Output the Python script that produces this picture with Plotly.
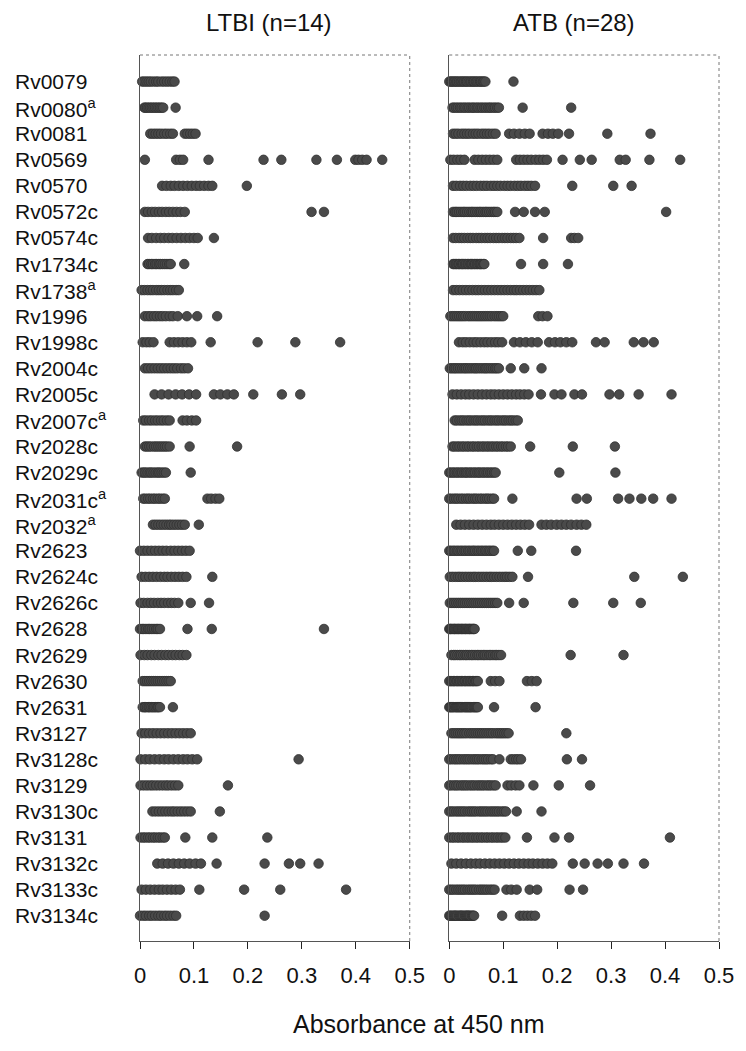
import plotly.graph_objects as go

# ---------------- data ----------------
antigens = ["Rv0079", "Rv0080", "Rv0081", "Rv0569", "Rv0570", "Rv0572c", "Rv0574c",
            "Rv1734c", "Rv1738", "Rv1996", "Rv1998c", "Rv2004c", "Rv2005c", "Rv2007c",
            "Rv2028c", "Rv2029c", "Rv2031c", "Rv2032", "Rv2623", "Rv2624c", "Rv2626c",
            "Rv2628", "Rv2629", "Rv2630", "Rv2631", "Rv3127", "Rv3128c", "Rv3129",
            "Rv3130c", "Rv3131", "Rv3132c", "Rv3133c", "Rv3134c"]
antigen_labels = ["Rv0079", "Rv0080<sup>a</sup>", "Rv0081", "Rv0569", "Rv0570", "Rv0572c",
                  "Rv0574c", "Rv1734c", "Rv1738<sup>a</sup>", "Rv1996", "Rv1998c", "Rv2004c",
                  "Rv2005c", "Rv2007c<sup>a</sup>", "Rv2028c", "Rv2029c", "Rv2031c<sup>a</sup>",
                  "Rv2032<sup>a</sup>", "Rv2623", "Rv2624c", "Rv2626c", "Rv2628", "Rv2629",
                  "Rv2630", "Rv2631", "Rv3127", "Rv3128c", "Rv3129", "Rv3130c", "Rv3131",
                  "Rv3132c", "Rv3133c", "Rv3134c"]
x_tickvals = [0, 0.1, 0.2, 0.3, 0.4, 0.5]
x_ticktext = ["0", "0.1", "0.2", "0.3", "0.4", "0.5"]
panel_titles = ["LTBI (n=14)", "ATB (n=28)"]
x_title = "Absorbance at 450 nm"

# LTBI group (n=14) absorbance values per antigen
ltbi_rv0079 = [0.004, 0.008, 0.012, 0.016, 0.02, 0.025, 0.03, 0.034, 0.04, 0.045, 0.05, 0.055, 0.06, 0.064]
ltbi_rv0080 = [0.008, 0.01, 0.013, 0.016, 0.019, 0.022, 0.025, 0.028, 0.031, 0.034, 0.037, 0.04, 0.043, 0.066]
ltbi_rv0081 = [0.019, 0.024, 0.029, 0.034, 0.039, 0.045, 0.05, 0.056, 0.061, 0.083, 0.088, 0.093, 0.098, 0.103]
ltbi_rv0569 = [0.009, 0.067, 0.074, 0.08, 0.127, 0.229, 0.262, 0.327, 0.365, 0.399, 0.405, 0.412, 0.42, 0.449]
ltbi_rv0570 = [0.041, 0.049, 0.057, 0.064, 0.072, 0.08, 0.088, 0.096, 0.104, 0.111, 0.119, 0.127, 0.134, 0.198]
ltbi_rv0572c = [0.009, 0.015, 0.022, 0.028, 0.035, 0.041, 0.048, 0.054, 0.061, 0.068, 0.075, 0.083, 0.318, 0.341]
ltbi_rv0574c = [0.015, 0.022, 0.03, 0.038, 0.045, 0.053, 0.06, 0.068, 0.076, 0.084, 0.092, 0.1, 0.107, 0.137]
ltbi_rv1734c = [0.014, 0.017, 0.021, 0.024, 0.028, 0.031, 0.035, 0.038, 0.042, 0.046, 0.05, 0.054, 0.057, 0.082]
ltbi_rv1738 = [0.003, 0.008, 0.014, 0.019, 0.024, 0.03, 0.035, 0.04, 0.045, 0.051, 0.056, 0.061, 0.067, 0.072]
ltbi_rv1996 = [0.009, 0.015, 0.02, 0.026, 0.031, 0.037, 0.042, 0.048, 0.055, 0.061, 0.07, 0.087, 0.106, 0.143]
ltbi_rv1998c = [0.005, 0.012, 0.018, 0.025, 0.055, 0.063, 0.071, 0.079, 0.087, 0.095, 0.131, 0.218, 0.288, 0.371]
ltbi_rv2004c = [0.009, 0.015, 0.021, 0.027, 0.033, 0.039, 0.045, 0.051, 0.057, 0.063, 0.069, 0.076, 0.082, 0.089]
ltbi_rv2005c = [0.027, 0.04, 0.053, 0.066, 0.078, 0.091, 0.104, 0.137, 0.149, 0.162, 0.174, 0.21, 0.263, 0.297]
ltbi_rv2007c = [0.006, 0.011, 0.017, 0.022, 0.028, 0.033, 0.039, 0.044, 0.05, 0.055, 0.079, 0.087, 0.096, 0.104]
ltbi_rv2028c = [0.009, 0.013, 0.017, 0.021, 0.026, 0.03, 0.034, 0.038, 0.042, 0.046, 0.05, 0.055, 0.092, 0.18]
ltbi_rv2029c = [0.003, 0.007, 0.01, 0.014, 0.018, 0.021, 0.025, 0.029, 0.033, 0.036, 0.04, 0.044, 0.048, 0.094]
ltbi_rv2031c = [0.006, 0.01, 0.015, 0.019, 0.024, 0.028, 0.033, 0.037, 0.042, 0.046, 0.125, 0.132, 0.14, 0.147]
ltbi_rv2032 = [0.024, 0.029, 0.034, 0.039, 0.044, 0.049, 0.054, 0.058, 0.063, 0.068, 0.073, 0.078, 0.083, 0.109]
ltbi_rv2623 = [0.0, 0.007, 0.014, 0.021, 0.028, 0.035, 0.042, 0.049, 0.057, 0.064, 0.071, 0.078, 0.085, 0.092]
ltbi_rv2624c = [0.003, 0.01, 0.017, 0.024, 0.031, 0.038, 0.045, 0.051, 0.058, 0.065, 0.072, 0.079, 0.086, 0.134]
ltbi_rv2626c = [0.001, 0.007, 0.014, 0.02, 0.026, 0.033, 0.039, 0.045, 0.052, 0.058, 0.064, 0.071, 0.094, 0.128]
ltbi_rv2628 = [0.0, 0.004, 0.007, 0.011, 0.015, 0.018, 0.022, 0.026, 0.03, 0.033, 0.037, 0.088, 0.133, 0.341]
ltbi_rv2629 = [0.001, 0.008, 0.014, 0.021, 0.027, 0.034, 0.04, 0.047, 0.053, 0.06, 0.066, 0.073, 0.079, 0.086]
ltbi_rv2630 = [0.005, 0.009, 0.013, 0.017, 0.021, 0.025, 0.029, 0.033, 0.037, 0.041, 0.045, 0.049, 0.053, 0.057]
ltbi_rv2631 = [0.005, 0.008, 0.01, 0.013, 0.016, 0.018, 0.021, 0.024, 0.026, 0.029, 0.032, 0.034, 0.037, 0.061]
ltbi_rv3127 = [0.003, 0.01, 0.017, 0.024, 0.031, 0.038, 0.045, 0.052, 0.059, 0.066, 0.073, 0.08, 0.087, 0.094]
ltbi_rv3128c = [0.001, 0.01, 0.018, 0.027, 0.036, 0.045, 0.053, 0.062, 0.071, 0.08, 0.088, 0.097, 0.106, 0.294]
ltbi_rv3129 = [0.001, 0.007, 0.013, 0.019, 0.024, 0.03, 0.036, 0.042, 0.048, 0.053, 0.059, 0.065, 0.071, 0.163]
ltbi_rv3130c = [0.023, 0.029, 0.035, 0.041, 0.047, 0.053, 0.059, 0.064, 0.07, 0.076, 0.082, 0.088, 0.094, 0.148]
ltbi_rv3131 = [0.001, 0.006, 0.01, 0.015, 0.019, 0.024, 0.028, 0.033, 0.037, 0.042, 0.046, 0.084, 0.134, 0.236]
ltbi_rv3132c = [0.032, 0.042, 0.052, 0.062, 0.072, 0.082, 0.092, 0.103, 0.113, 0.142, 0.231, 0.276, 0.297, 0.331]
ltbi_rv3133c = [0.003, 0.011, 0.019, 0.027, 0.035, 0.042, 0.05, 0.058, 0.066, 0.074, 0.11, 0.193, 0.26, 0.382]
ltbi_rv3134c = [0.0, 0.006, 0.011, 0.017, 0.022, 0.028, 0.034, 0.039, 0.045, 0.05, 0.056, 0.062, 0.067, 0.231]

# ATB group (n=28) absorbance values per antigen
atb_rv0079 = [0.0, 0.003, 0.005, 0.008, 0.01, 0.013, 0.015, 0.018, 0.021, 0.023, 0.026, 0.028, 0.031, 0.033,
              0.036, 0.039, 0.041, 0.044, 0.046, 0.049, 0.051, 0.054, 0.057, 0.059, 0.062, 0.064, 0.067, 0.119]
atb_rv0080 = [0.006, 0.009, 0.013, 0.016, 0.02, 0.023, 0.027, 0.03, 0.034, 0.037, 0.041, 0.044, 0.047, 0.051,
              0.054, 0.058, 0.061, 0.065, 0.068, 0.072, 0.075, 0.078, 0.082, 0.085, 0.089, 0.092, 0.136, 0.226]
atb_rv0081 = [0.007, 0.012, 0.017, 0.023, 0.028, 0.033, 0.038, 0.044, 0.049, 0.054, 0.06, 0.065, 0.07, 0.075,
              0.081, 0.086, 0.111, 0.12, 0.13, 0.14, 0.149, 0.173, 0.183, 0.192, 0.202, 0.222, 0.293, 0.373]
atb_rv0569 = [0.002, 0.008, 0.015, 0.021, 0.028, 0.047, 0.054, 0.061, 0.068, 0.075, 0.082, 0.089, 0.124, 0.131,
              0.138, 0.145, 0.152, 0.16, 0.167, 0.174, 0.181, 0.21, 0.242, 0.264, 0.316, 0.327, 0.371, 0.428]
atb_rv0570 = [0.007, 0.013, 0.02, 0.026, 0.032, 0.039, 0.045, 0.051, 0.058, 0.064, 0.07, 0.077, 0.083, 0.089,
              0.095, 0.102, 0.108, 0.114, 0.121, 0.127, 0.133, 0.14, 0.146, 0.152, 0.159, 0.228, 0.304, 0.338]
atb_rv0572c = [0.007, 0.011, 0.014, 0.018, 0.022, 0.026, 0.029, 0.033, 0.037, 0.041, 0.044, 0.048, 0.052, 0.056,
               0.059, 0.063, 0.067, 0.07, 0.074, 0.078, 0.082, 0.085, 0.089, 0.122, 0.138, 0.159, 0.177, 0.402]
atb_rv0574c = [0.007, 0.012, 0.018, 0.023, 0.028, 0.034, 0.039, 0.044, 0.05, 0.055, 0.06, 0.066, 0.071, 0.076,
               0.082, 0.087, 0.092, 0.098, 0.103, 0.108, 0.114, 0.119, 0.124, 0.13, 0.174, 0.226, 0.232, 0.239]
atb_rv1734c = [0.007, 0.009, 0.012, 0.014, 0.017, 0.019, 0.022, 0.024, 0.026, 0.029, 0.031, 0.034, 0.036, 0.039,
               0.041, 0.043, 0.046, 0.048, 0.051, 0.053, 0.056, 0.058, 0.06, 0.063, 0.065, 0.133, 0.174, 0.22]
atb_rv1738 = [0.007, 0.013, 0.019, 0.025, 0.031, 0.037, 0.043, 0.049, 0.054, 0.06, 0.066, 0.072, 0.078, 0.084,
              0.09, 0.096, 0.102, 0.108, 0.114, 0.12, 0.125, 0.131, 0.137, 0.143, 0.149, 0.155, 0.161, 0.167]
atb_rv1996 = [0.002, 0.006, 0.01, 0.014, 0.018, 0.022, 0.026, 0.03, 0.035, 0.039, 0.043, 0.047, 0.051, 0.055,
              0.059, 0.063, 0.067, 0.071, 0.075, 0.079, 0.084, 0.088, 0.092, 0.096, 0.1, 0.165, 0.173, 0.182]
atb_rv1998c = [0.018, 0.025, 0.031, 0.038, 0.045, 0.051, 0.058, 0.065, 0.071, 0.078, 0.085, 0.091, 0.098, 0.12,
               0.131, 0.142, 0.153, 0.164, 0.185, 0.196, 0.206, 0.217, 0.228, 0.272, 0.288, 0.342, 0.36, 0.379]
atb_rv2004c = [0.001, 0.005, 0.009, 0.012, 0.016, 0.02, 0.024, 0.028, 0.031, 0.035, 0.039, 0.043, 0.047, 0.05,
               0.054, 0.058, 0.062, 0.066, 0.069, 0.073, 0.077, 0.081, 0.085, 0.088, 0.092, 0.114, 0.139, 0.171]
atb_rv2005c = [0.006, 0.014, 0.022, 0.03, 0.037, 0.045, 0.053, 0.061, 0.069, 0.077, 0.084, 0.092, 0.1, 0.108,
               0.116, 0.124, 0.131, 0.139, 0.147, 0.17, 0.195, 0.208, 0.232, 0.246, 0.297, 0.315, 0.351, 0.412]
atb_rv2007c = [0.01, 0.014, 0.019, 0.023, 0.027, 0.032, 0.036, 0.04, 0.045, 0.049, 0.053, 0.058, 0.062, 0.066,
               0.071, 0.075, 0.079, 0.084, 0.088, 0.092, 0.097, 0.101, 0.105, 0.11, 0.114, 0.118, 0.123, 0.127]
atb_rv2028c = [0.006, 0.01, 0.015, 0.019, 0.024, 0.028, 0.033, 0.037, 0.042, 0.046, 0.051, 0.055, 0.06, 0.064,
               0.069, 0.073, 0.078, 0.082, 0.087, 0.091, 0.096, 0.1, 0.105, 0.109, 0.114, 0.15, 0.229, 0.307]
atb_rv2029c = [0.0, 0.003, 0.007, 0.01, 0.014, 0.017, 0.021, 0.024, 0.028, 0.031, 0.034, 0.038, 0.041, 0.045,
               0.048, 0.052, 0.055, 0.058, 0.062, 0.065, 0.069, 0.072, 0.076, 0.079, 0.083, 0.086, 0.204, 0.308]
atb_rv2031c = [0.0, 0.004, 0.009, 0.013, 0.017, 0.022, 0.026, 0.031, 0.035, 0.039, 0.044, 0.048, 0.052, 0.057,
               0.061, 0.066, 0.07, 0.074, 0.079, 0.083, 0.117, 0.236, 0.255, 0.313, 0.334, 0.356, 0.378, 0.412]
atb_rv2032 = [0.013, 0.021, 0.029, 0.037, 0.045, 0.053, 0.061, 0.069, 0.077, 0.084, 0.092, 0.1, 0.108, 0.116,
              0.124, 0.132, 0.14, 0.148, 0.171, 0.18, 0.189, 0.199, 0.208, 0.217, 0.226, 0.236, 0.245, 0.254]
atb_rv2623 = [0.0, 0.003, 0.007, 0.01, 0.014, 0.017, 0.021, 0.024, 0.028, 0.031, 0.035, 0.038, 0.042, 0.045,
              0.048, 0.052, 0.055, 0.059, 0.062, 0.066, 0.069, 0.073, 0.076, 0.08, 0.083, 0.127, 0.152, 0.235]
atb_rv2624c = [0.001, 0.006, 0.011, 0.016, 0.02, 0.025, 0.03, 0.035, 0.04, 0.045, 0.049, 0.054, 0.059, 0.064,
               0.069, 0.074, 0.078, 0.083, 0.088, 0.093, 0.098, 0.103, 0.107, 0.112, 0.117, 0.146, 0.343, 0.433]
atb_rv2626c = [0.001, 0.005, 0.009, 0.013, 0.017, 0.021, 0.025, 0.029, 0.033, 0.037, 0.041, 0.045, 0.049, 0.053,
               0.057, 0.061, 0.065, 0.069, 0.073, 0.077, 0.081, 0.085, 0.089, 0.111, 0.138, 0.23, 0.304, 0.355]
atb_rv2628 = [0.0, 0.002, 0.003, 0.005, 0.007, 0.009, 0.01, 0.012, 0.014, 0.016, 0.017, 0.019, 0.021, 0.023,
              0.024, 0.026, 0.028, 0.03, 0.031, 0.033, 0.035, 0.037, 0.038, 0.04, 0.042, 0.044, 0.045, 0.047]
atb_rv2629 = [0.004, 0.008, 0.011, 0.015, 0.019, 0.022, 0.026, 0.03, 0.033, 0.037, 0.041, 0.044, 0.048, 0.052,
              0.055, 0.059, 0.063, 0.066, 0.07, 0.074, 0.077, 0.081, 0.085, 0.088, 0.092, 0.096, 0.225, 0.323]
atb_rv2630 = [0.0, 0.003, 0.005, 0.008, 0.01, 0.013, 0.015, 0.018, 0.02, 0.023, 0.025, 0.028, 0.03, 0.033,
              0.035, 0.038, 0.04, 0.043, 0.045, 0.048, 0.05, 0.053, 0.077, 0.085, 0.093, 0.144, 0.153, 0.162]
atb_rv2631 = [0.0, 0.002, 0.004, 0.006, 0.008, 0.011, 0.013, 0.015, 0.017, 0.019, 0.021, 0.023, 0.025, 0.028,
              0.03, 0.032, 0.034, 0.036, 0.038, 0.04, 0.042, 0.045, 0.047, 0.049, 0.051, 0.053, 0.083, 0.16]
atb_rv3127 = [0.004, 0.008, 0.012, 0.016, 0.02, 0.024, 0.028, 0.032, 0.037, 0.041, 0.045, 0.049, 0.053, 0.057,
              0.061, 0.065, 0.069, 0.073, 0.077, 0.081, 0.086, 0.09, 0.094, 0.098, 0.102, 0.106, 0.11, 0.217]
atb_rv3128c = [0.0, 0.004, 0.009, 0.013, 0.017, 0.021, 0.026, 0.03, 0.034, 0.038, 0.043, 0.047, 0.051, 0.055,
               0.06, 0.064, 0.068, 0.072, 0.077, 0.081, 0.093, 0.114, 0.119, 0.124, 0.128, 0.133, 0.218, 0.246]
atb_rv3129 = [0.0, 0.004, 0.009, 0.013, 0.017, 0.022, 0.026, 0.03, 0.034, 0.039, 0.043, 0.047, 0.052, 0.056,
              0.06, 0.064, 0.069, 0.073, 0.077, 0.082, 0.086, 0.108, 0.115, 0.123, 0.13, 0.156, 0.203, 0.261]
atb_rv3130c = [0.0, 0.004, 0.008, 0.013, 0.017, 0.021, 0.025, 0.029, 0.034, 0.038, 0.042, 0.046, 0.05, 0.055,
               0.059, 0.063, 0.067, 0.071, 0.076, 0.08, 0.084, 0.088, 0.092, 0.097, 0.101, 0.105, 0.125, 0.171]
atb_rv3131 = [0.0, 0.005, 0.009, 0.014, 0.018, 0.023, 0.027, 0.032, 0.036, 0.041, 0.045, 0.05, 0.054, 0.059,
              0.063, 0.068, 0.072, 0.077, 0.081, 0.086, 0.09, 0.095, 0.099, 0.104, 0.144, 0.195, 0.222, 0.409]
atb_rv3132c = [0.004, 0.013, 0.022, 0.031, 0.04, 0.049, 0.057, 0.066, 0.075, 0.084, 0.093, 0.102, 0.111, 0.12,
               0.129, 0.138, 0.147, 0.155, 0.164, 0.173, 0.182, 0.191, 0.229, 0.251, 0.275, 0.294, 0.323, 0.361]
atb_rv3133c = [0.0, 0.004, 0.008, 0.013, 0.017, 0.021, 0.025, 0.029, 0.034, 0.038, 0.042, 0.046, 0.05, 0.055,
               0.059, 0.063, 0.067, 0.071, 0.076, 0.08, 0.084, 0.106, 0.115, 0.125, 0.149, 0.163, 0.223, 0.248]
atb_rv3134c = [0.0, 0.002, 0.004, 0.007, 0.009, 0.011, 0.013, 0.015, 0.018, 0.02, 0.022, 0.024, 0.026, 0.029,
               0.031, 0.033, 0.035, 0.037, 0.039, 0.042, 0.044, 0.046, 0.098, 0.131, 0.138, 0.145, 0.152, 0.159]

ltbi_rows = [ltbi_rv0079, ltbi_rv0080, ltbi_rv0081, ltbi_rv0569, ltbi_rv0570, ltbi_rv0572c, ltbi_rv0574c,
             ltbi_rv1734c, ltbi_rv1738, ltbi_rv1996, ltbi_rv1998c, ltbi_rv2004c, ltbi_rv2005c, ltbi_rv2007c,
             ltbi_rv2028c, ltbi_rv2029c, ltbi_rv2031c, ltbi_rv2032, ltbi_rv2623, ltbi_rv2624c, ltbi_rv2626c,
             ltbi_rv2628, ltbi_rv2629, ltbi_rv2630, ltbi_rv2631, ltbi_rv3127, ltbi_rv3128c, ltbi_rv3129,
             ltbi_rv3130c, ltbi_rv3131, ltbi_rv3132c, ltbi_rv3133c, ltbi_rv3134c]
atb_rows = [atb_rv0079, atb_rv0080, atb_rv0081, atb_rv0569, atb_rv0570, atb_rv0572c, atb_rv0574c,
            atb_rv1734c, atb_rv1738, atb_rv1996, atb_rv1998c, atb_rv2004c, atb_rv2005c, atb_rv2007c,
            atb_rv2028c, atb_rv2029c, atb_rv2031c, atb_rv2032, atb_rv2623, atb_rv2624c, atb_rv2626c,
            atb_rv2628, atb_rv2629, atb_rv2630, atb_rv2631, atb_rv3127, atb_rv3128c, atb_rv3129,
            atb_rv3130c, atb_rv3131, atb_rv3132c, atb_rv3133c, atb_rv3134c]

# ---------------- figure ----------------
# The page body has an 8px margin; positions below are page pixels.
OFF = 8
W, H = 746 - OFF, 1051 - OFF
PLOT_L, PLOT_R, PLOT_T, PLOT_B = 140, 726, 55, 941     # page px
ML = PLOT_L - OFF
MT = PLOT_T - OFF
MR = W - (PLOT_R - OFF)
MB = H - (PLOT_B - OFF)
PW = PLOT_R - PLOT_L
PH = PLOT_B - PLOT_T
FONT = "Liberation Sans, Arial, sans-serif"


def px_x(p):
    return (p - PLOT_L) / PW


def px_y(p):
    return (PLOT_B - p) / PH


dot_color = "#4a4a4a"
dot_edge = "#303030"

fig = go.Figure()
for rows, xa, ya in [(ltbi_rows, "x", "y"), (atb_rows, "x2", "y2")]:
    xs, ys = [], []
    for name, vals in zip(antigens, rows):
        xs.extend(vals)
        ys.extend([name] * len(vals))
    fig.add_trace(go.Scatter(
        x=xs, y=ys, xaxis=xa, yaxis=ya, mode="markers",
        marker=dict(size=9.5, color=dot_color, line=dict(width=0.8, color=dot_edge)),
        cliponaxis=False, showlegend=False, hoverinfo="x+y"))

x1_dom = [0, px_x(413)]
x2_dom = [px_x(453), 1]
yrange = [32.97, -1.02]

xaxis_common = dict(range=[0, 0.5], tickvals=x_tickvals, ticktext=x_ticktext,
                    ticks="outside", ticklen=7, tickwidth=1, tickcolor="#222",
                    showline=True, linecolor="#555", linewidth=1, showgrid=False,
                    zeroline=False, tickfont=dict(family=FONT, size=22, color="#111"),
                    ticklabelstandoff=8, fixedrange=True)
yaxis_common = dict(type="category", categoryorder="array", categoryarray=antigens,
                    range=yrange, showticklabels=False, ticks="", showgrid=False,
                    zeroline=False, showline=True, linecolor="#555", linewidth=1,
                    fixedrange=True)

fig.update_layout(
    width=W, height=H,
    margin=dict(l=ML, r=MR, t=MT, b=MB),
    paper_bgcolor="white", plot_bgcolor="white",
    xaxis=dict(domain=x1_dom, anchor="y", **xaxis_common),
    xaxis2=dict(domain=x2_dom, anchor="y2", **xaxis_common),
    yaxis=dict(anchor="x", **yaxis_common),
    yaxis2=dict(anchor="x2", matches="y", **yaxis_common),
    font=dict(family=FONT, color="#111"),
)

# dotted top/right borders of each panel
for xr, yr in [("x domain", "y domain"), ("x2 domain", "y2 domain")]:
    fig.add_shape(type="line", xref=xr, yref=yr, x0=0, x1=1, y0=1, y1=1,
                  line=dict(color="#777", width=1, dash="dot"))
    fig.add_shape(type="line", xref=xr, yref=yr, x0=1, x1=1, y0=0, y1=1,
                  line=dict(color="#777", width=1, dash="dot"))

# row labels (left aligned, like the reference)
for name, label in zip(antigens, antigen_labels):
    fig.add_annotation(x=px_x(11), xref="paper", y=name, yref="y", text=label,
                       xanchor="left", yanchor="middle", showarrow=False,
                       font=dict(family=FONT, size=21, color="#111"))

# panel titles (top of text box at the top of the figure)
for title, cx in zip(panel_titles, [271, 579]):
    fig.add_annotation(x=px_x(cx), y=px_y(OFF), xref="paper", yref="paper", text=title,
                       showarrow=False, xanchor="center", yanchor="top", borderpad=0,
                       font=dict(family=FONT, size=24, color="#111"))

# shared x-axis title
fig.add_annotation(x=px_x(422), y=px_y(1024), xref="paper", yref="paper", text=x_title,
                   showarrow=False, xanchor="center", yanchor="middle",
                   font=dict(family=FONT, size=25, color="#111"))

fig.write_html("out.html")
